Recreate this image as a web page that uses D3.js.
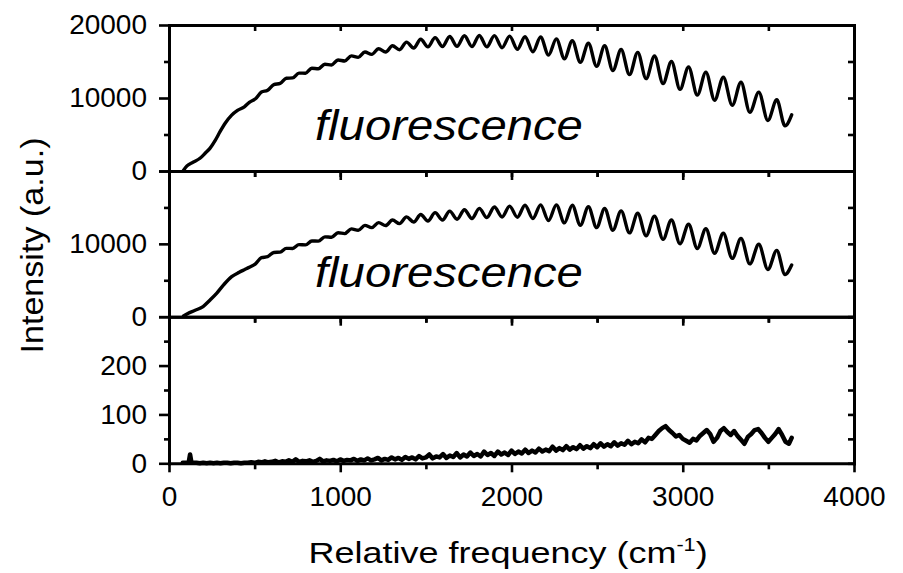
<!DOCTYPE html>
<html><head><meta charset="utf-8">
<script src="https://cdn.jsdelivr.net/npm/d3@7/dist/d3.min.js"></script>
<style>
body{margin:0;background:#fff}
text{font-family:"Liberation Sans",Arial,sans-serif;fill:#000}
</style>
</head><body>
<svg id="chart" width="903" height="573"></svg>
<script>
// ---------------- data ----------------
const xMajorTicks = [0, 1000, 2000, 3000, 4000];
const xMinorTicks = [500, 1500, 2500, 3500];
const xTitle = "Relative frequency (cm";
const yTitle = "Intensity (a.u.)";
const annotation = "fluorescence";

const topDomain = [0, 20000];
const topMajor = [0, 10000, 20000];
const topLabels = [0, 10000, 20000];
const topMinor = [5000, 15000];

const midDomain = [0, 20000];
const midMajor = [0, 10000, 20000];
const midLabels = [0, 10000];
const midMinor = [5000, 15000];

const botDomain = [0, 300];
const botMajor = [0, 100, 200, 300];
const botLabels = [0, 100, 200];
const botMinor = [50, 150, 250];

// [relative frequency, intensity]
const topSeries = [
[85,100],[105,700],[140,1200],[181,1740],[210,2400],[239,3100],[270,4200],[298,5380],[330,6600],[366,7650],[400,8300],[440,8800],
[469,9400],[505,9890],[540,10820],[576,11070],[612,11840],[649,12000],[685,12700],[722,12750],[759,13410],[797,13400],[834,14070],[872,14000],[910,14630],[949,14530],[987,15200],[1026,15070],[1065,15770],[1105,15570],[1144,16300],[1184,15980],[1224,16750],[1265,16300],[1305,17150],[1346,16600],[1387,17650],[1429,16850],[1470,18050],[1512,17000],[1554,18270],[1597,17050],[1639,18430],[1682,17080],[1725,18530],[1769,17050],[1812,18570],[1856,17000],[1900,18550],[1945,16890],[1989,18470],[2034,16670],[2079,18400],[2125,16330],[2170,18350],[2216,15880],[2262,18100],[2309,15380],[2355,17850],[2402,14880],[2449,17500],[2497,14330],[2544,17150],[2592,13750],[2640,16650],[2689,13200],[2737,16250],[2786,12650],[2835,15750],[2885,11980],[2934,15000],[2984,11180],[3034,14250],[3085,10400],[3135,13550],[3186,9700],[3237,12850],[3289,9000],[3340,12150],[3392,8030],[3444,10800],[3497,6920],[3549,9750],[3597,6180],[3636,7700]
];

const midSeries = [
[85,100],[110,450],[150,850],[199,1400],[240,2300],[278,3200],[320,4400],[366,5500],[410,6100],[440,6450],
[469,6780],[505,7260],[540,8100],[576,8240],[612,8820],[649,8860],[685,9380],[722,9370],[759,9890],[797,9860],[834,10400],[872,10370],[910,10960],[949,10910],[987,11530],[1026,11410],[1065,12050],[1105,11870],[1144,12530],[1184,12230],[1224,12920],[1265,12510],[1305,13270],[1346,12770],[1387,13700],[1429,12990],[1470,14030],[1512,13140],[1554,14290],[1597,13270],[1639,14490],[1682,13370],[1725,14680],[1769,13480],[1812,14870],[1856,13600],[1900,15050],[1945,13690],[1989,15180],[2034,13660],[2079,15300],[2125,13480],[2170,15350],[2216,13210],[2262,15350],[2309,12880],[2355,15300],[2402,12560],[2449,15100],[2497,12230],[2544,14850],[2592,11870],[2640,14520],[2689,11500],[2737,14200],[2786,11100],[2835,13800],[2885,10620],[2934,13280],[2984,10010],[3034,12700],[3085,9370],[3135,12070],[3186,8700],[3237,11450],[3289,8000],[3340,10750],[3392,7250],[3444,9950],[3497,6480],[3549,9100],[3597,5800],[3636,7100]
];

const botSeries = [
[80,1],[100,1],[115,2],[123,18],[131,2],[140,1],[160,1],[180,0],[200,1],[220,0],[240,1],[260,0],[280,1],[300,0],[320,1],[340,1],[360,0],[380,1],[400,1],[420,0],[440,1],[460,1],[480,2],[500,1],[520,3],[540,2],[560,4],[580,2],[600,3],[620,5],[640,2],[660,4],[680,3],[700,6],[720,3],[740,8],[760,3],[780,5],[800,4],[820,6],[840,3],[860,5],[880,9],[900,4],[920,6],[940,5],[960,7],[980,4],
[1000,8],[1020,5],[1040,7],[1060,6],[1080,9],[1100,5],[1120,8],[1140,6],[1160,10],[1180,6],[1200,8],[1220,11],[1240,6],[1260,9],[1280,7],[1300,12],[1320,8],[1340,11],[1360,7],[1380,13],[1400,9],[1420,12],[1440,8],[1460,15],[1480,10],[1500,12],[1520,18],[1540,10],[1560,14],[1580,12],[1600,19],[1620,11],[1640,16],[1660,13],[1680,21],[1700,12],[1720,18],[1740,14],[1760,22],[1780,15],[1800,19],[1820,14],[1840,24],[1860,17],[1880,21],[1900,15],[1920,24],[1940,18],[1960,22],[1980,17],
[2000,26],[2020,19],[2040,24],[2060,20],[2080,28],[2100,21],[2120,26],[2140,22],[2160,30],[2180,24],[2200,28],[2220,25],[2240,34],[2260,26],[2280,31],[2300,27],[2320,35],[2340,28],[2360,33],[2380,29],[2400,37],[2420,30],[2440,35],[2460,31],[2480,39],[2500,33],[2520,41],[2540,34],[2560,39],[2580,35],[2600,43],[2620,36],[2640,41],[2660,38],[2680,46],[2700,39],[2720,44],[2740,41],[2760,49],[2780,43],[2800,52],[2820,50],[2840,58],[2860,66],[2880,72],[2900,76],[2920,68],[2940,62],[2960,55],[2980,58],
[3000,50],[3020,46],[3040,42],[3060,50],[3080,47],[3100,56],[3120,62],[3140,68],[3160,60],[3180,44],[3200,52],[3220,66],[3240,72],[3260,64],[3280,58],[3300,66],[3320,56],[3340,48],[3360,40],[3380,54],[3400,60],[3420,68],[3440,70],[3460,62],[3480,52],[3500,44],[3520,52],[3540,60],[3560,70],[3580,58],[3600,44],[3620,40],[3636,52]
];

// ---------------- drawing ----------------
const svg = d3.select("#chart");
const plotLeft = 169, plotRight = 854;
const x = d3.scaleLinear().domain([0, 4000]).range([plotLeft, plotRight]);

const panels = [
  {domain: topDomain, major: topMajor, labels: topLabels, minor: topMinor, series: topSeries, y0: 171, y1: 25, sw: 3.4, curve: d3.curveMonotoneX, text: true, textBase: 140, xlabels: false},
  {domain: midDomain, major: midMajor, labels: midLabels, minor: midMinor, series: midSeries, y0: 316.7, y1: 171, sw: 3.4, curve: d3.curveMonotoneX, text: true, textBase: 287, xlabels: false},
  {domain: botDomain, major: botMajor, labels: botLabels, minor: botMinor, series: botSeries, y0: 463.3, y1: 316.7, sw: 4.5, curve: d3.curveLinear, text: false, xlabels: true}
];

function styleAxis(g) {
  g.selectAll("path.domain").attr("stroke", "#000").attr("stroke-width", 3).attr("stroke-linecap", "square");
  g.selectAll(".tick line").attr("stroke", "#000").attr("stroke-width", 2.6);
  g.selectAll(".tick text").attr("font-size", 28).attr("font-family", "'Liberation Sans', Arial, sans-serif").attr("fill", "#000");
}

panels.forEach(p => {
  const y = d3.scaleLinear().domain(p.domain).range([p.y0, p.y1]);
  const g = svg.append("g");

  // data line
  const line = d3.line().x(d => x(d[0])).y(d => y(d[1])).curve(p.curve);
  g.append("path").datum(p.series)
    .attr("fill", "none").attr("stroke", "#000")
    .attr("stroke-width", p.sw).attr("stroke-linejoin", "round").attr("stroke-linecap", "round")
    .attr("d", line);

  // left axis
  const gl = g.append("g").attr("transform", `translate(${plotLeft},0)`)
    .call(d3.axisLeft(y).tickValues(p.major).tickSize(10).tickSizeOuter(0).tickPadding(12)
      .tickFormat(v => p.labels.includes(v) ? String(v) : ""));
  styleAxis(gl);
  const glm = g.append("g").attr("transform", `translate(${plotLeft},0)`)
    .call(d3.axisLeft(y).tickValues(p.minor).tickSize(5).tickSizeOuter(0).tickFormat(""));
  styleAxis(glm); glm.select("path.domain").remove();

  // right axis (ticks inward)
  const gr = g.append("g").attr("transform", `translate(${plotRight},0)`)
    .call(d3.axisRight(y).tickValues(p.major.concat(p.minor)).tickSize(-6).tickSizeOuter(0).tickFormat(""));
  styleAxis(gr);

  // top axis (ticks inward)
  const gt = g.append("g").attr("transform", `translate(0,${p.y1})`)
    .call(d3.axisTop(x).tickValues(xMajorTicks.concat(xMinorTicks)).tickSize(-6).tickSizeOuter(0).tickFormat(""));
  styleAxis(gt);

  // bottom axis (ticks outward)
  const gb = g.append("g").attr("transform", `translate(0,${p.y0})`)
    .call(d3.axisBottom(x).tickValues(xMajorTicks).tickSize(9).tickSizeOuter(0).tickPadding(14)
      .tickFormat(v => p.xlabels ? String(v) : ""));
  styleAxis(gb);
  const gbm = g.append("g").attr("transform", `translate(0,${p.y0})`)
    .call(d3.axisBottom(x).tickValues(xMinorTicks).tickSize(6).tickSizeOuter(0).tickFormat(""));
  styleAxis(gbm); gbm.select("path.domain").remove();

  if (p.text) {
    g.append("g").attr("transform", `translate(315,${p.textBase}) scale(1.125,1)`)
      .append("text").attr("font-size", 42).attr("font-style", "italic").text(annotation);
  }
});

// axis titles
const xt = svg.append("g").attr("transform", "translate(508,563) scale(1.2,1)")
  .append("text").attr("text-anchor", "middle").attr("font-size", 30);
xt.append("tspan").text(xTitle);
xt.append("tspan").attr("font-size", 18).attr("dy", -12).text("-1");
xt.append("tspan").attr("dy", 12).text(")");

svg.append("g").attr("transform", "translate(43,245.5) rotate(-90) scale(1.1,1)")
  .append("text").attr("text-anchor", "middle").attr("font-size", 31).text(yTitle);
</script>
</body></html>
